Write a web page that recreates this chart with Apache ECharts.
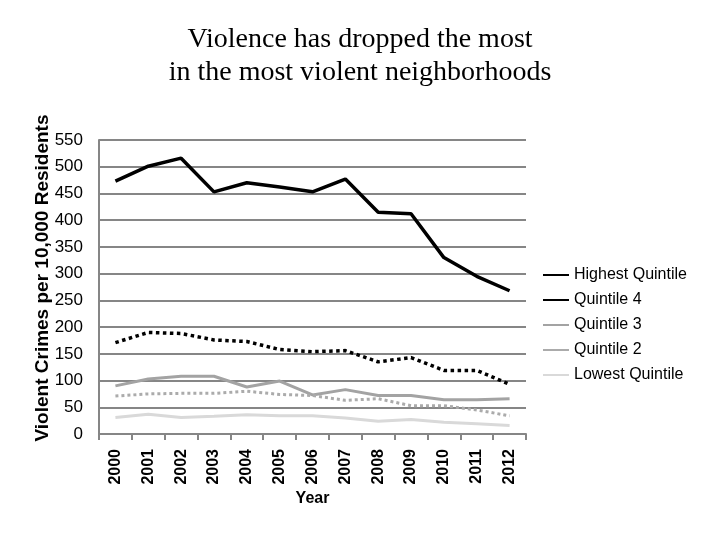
<!DOCTYPE html>
<html>
<head>
<meta charset="utf-8">
<script src="https://cdn.jsdelivr.net/npm/echarts@6/dist/echarts.min.js"></script>
<style>html,body{margin:0;padding:0;background:#fff}#c{width:720px;height:540px}</style>
</head>
<body>
<div id="c"></div>
<script>
const years = ['2000','2001','2002','2003','2004','2005','2006','2007','2008','2009','2010','2011','2012'];
const highest = [473, 501, 516, 453, 470, 462, 453, 477, 415, 412, 330, 295, 268];
const quintile4 = [171, 190, 188, 176, 173, 158, 154, 156, 135, 143, 119, 119, 93];
const quintile3 = [90, 103, 108, 108, 88, 99, 73, 83, 72, 72, 64, 64, 66];
const quintile2 = [71, 75, 76, 76, 80, 74, 72, 63, 66, 53, 53, 45, 34];
const lowest = [31, 37, 31, 33, 36, 34, 34, 30, 24, 27, 22, 19, 16];
const yTicks = [0,50,100,150,200,250,300,350,400,450,500,550];

const seriesDefs = [
  {name:'Highest Quintile', data: highest, color:'#000000', type:'solid', width:3.5},
  {name:'Quintile 4', data: quintile4, color:'#000000', type:'dotted', width:3.5},
  {name:'Quintile 3', data: quintile3, color:'#a3a3a3', type:'solid', width:3},
  {name:'Quintile 2', data: quintile2, color:'#ababab', type:'dotted', width:3},
  {name:'Lowest Quintile', data: lowest, color:'#d9d9d9', type:'solid', width:3}
];

const chart = echarts.init(document.getElementById('c'), null, {renderer:'canvas'});
chart.setOption({
  animation:false,
  backgroundColor:'#ffffff',
  title:{
    text:'Violence has dropped the most\nin the most violent neighborhoods',
    left:'center', top:18,
    textStyle:{fontFamily:'Liberation Serif', fontWeight:'normal', fontSize:28, color:'#000', lineHeight:33}
  },
  legend:{
    orient:'vertical', left:538, top:262,
    itemWidth:26, itemHeight:16, itemGap:9,
    textStyle:{fontFamily:'Liberation Sans', fontSize:16, color:'#000'},
    data: seriesDefs.map(s => ({name:s.name, icon:'path://M0,0 L26,0 L26,2 L0,2 Z', itemStyle:{color:s.color}}))
  },
  grid:{left:99, right:194, top:140, bottom:106, containLabel:false},
  xAxis:{
    type:'category', data:years, boundaryGap:true,
    name:'Year', nameLocation:'middle', nameGap:57, nameMoveOverlap:false,
    nameTextStyle:{fontFamily:'Liberation Sans', fontWeight:'bold', fontSize:16, color:'#000'},
    axisLine:{lineStyle:{color:'#868686', width:2}},
    axisTick:{show:true, length:6, lineStyle:{color:'#868686', width:2}},
    axisLabel:{rotate:90, fontFamily:'Liberation Sans', fontWeight:'bold', fontSize:16, color:'#000', margin:15}
  },
  yAxis:{
    type:'value', min:0, max:550, interval:50,
    name:'Violent Crimes per 10,000 Residents', nameLocation:'middle', nameGap:47, nameRotate:90, nameMoveOverlap:false,
    nameTextStyle:{fontFamily:'Liberation Sans', fontWeight:'bold', fontSize:19, color:'#000', padding:[0,0,0,18]},
    axisLine:{show:true, lineStyle:{color:'#868686', width:2}},
    axisTick:{show:false},
    splitLine:{lineStyle:{color:'#868686', width:2}},
    axisLabel:{fontFamily:'Liberation Sans', fontSize:17, color:'#000', margin:16,
      formatter: v => yTicks.indexOf(v) >= 0 ? String(v) : ''}
  },
  series: seriesDefs.map(s => ({
    name:s.name, type:'line', data:s.data, symbol:'none', showSymbol:false,
    lineStyle:{color:s.color, type:s.type, width:s.width},
    itemStyle:{color:s.color}
  }))
});
</script>
</body>
</html>
